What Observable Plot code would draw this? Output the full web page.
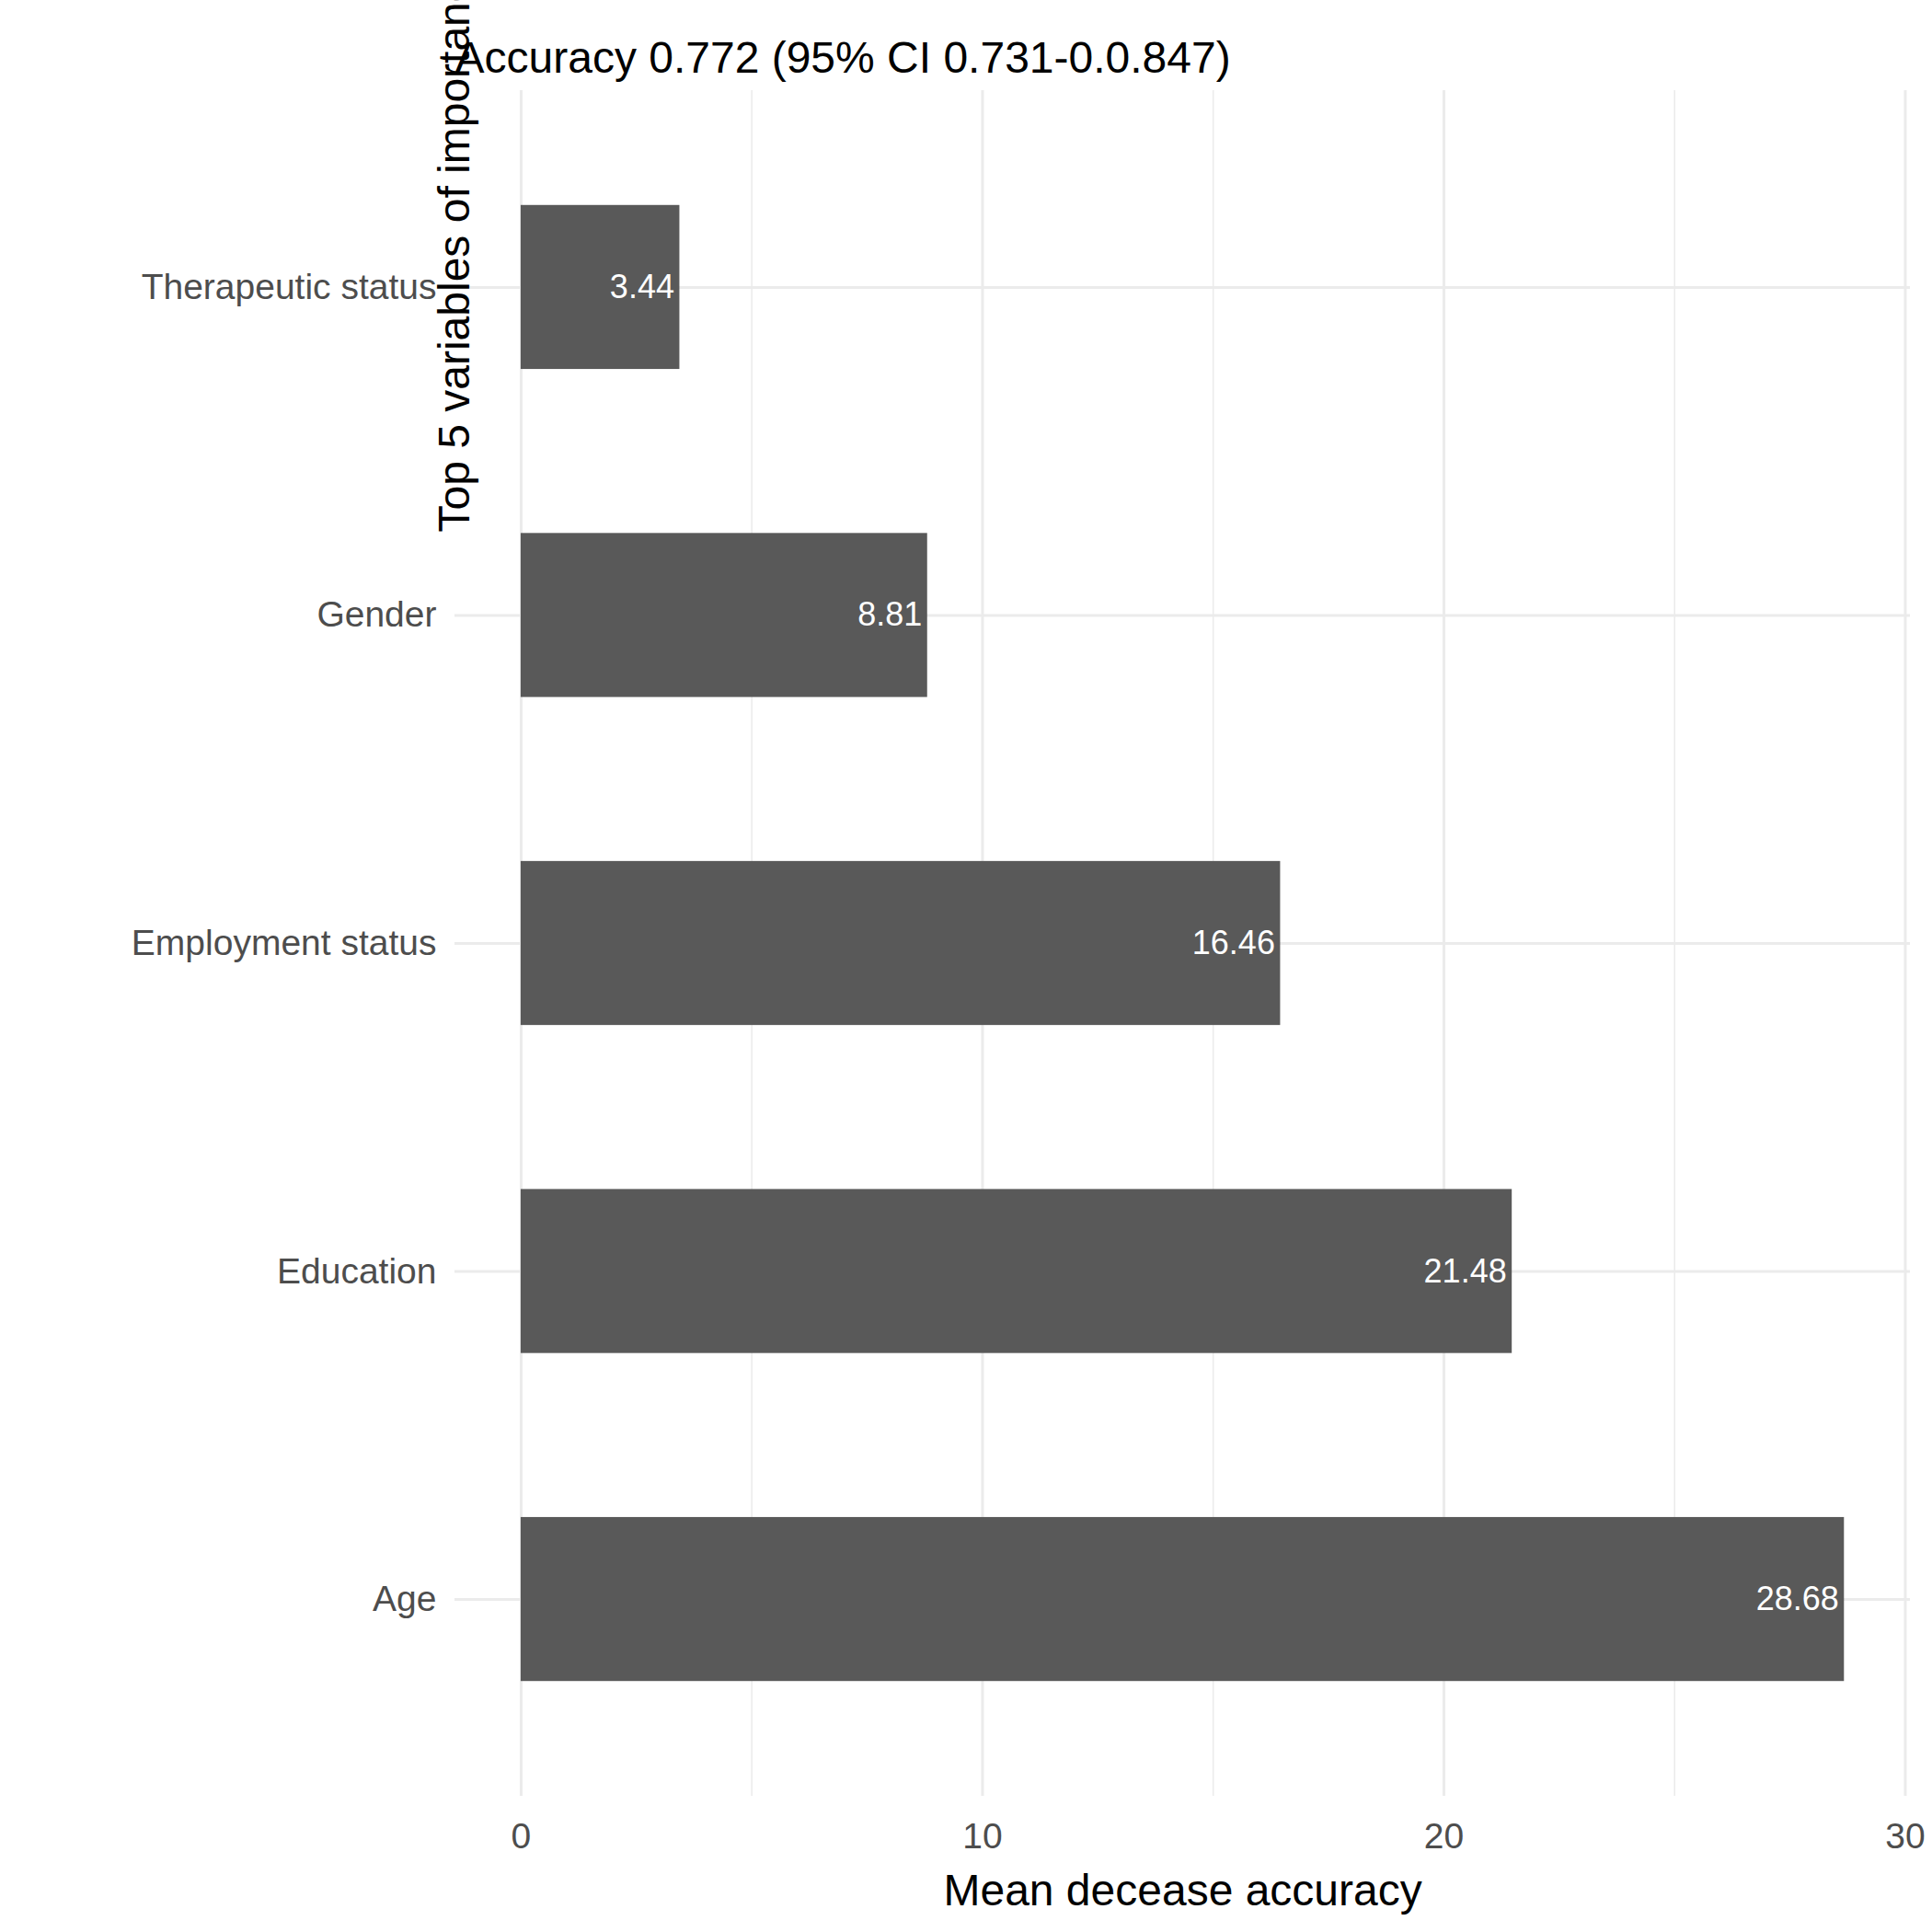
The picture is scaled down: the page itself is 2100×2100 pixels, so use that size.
<!DOCTYPE html>
<html><head>
<script src="https://cdn.jsdelivr.net/npm/d3@7"></script>
<script src="https://cdn.jsdelivr.net/npm/@observablehq/plot@0.6"></script>
<style>body{margin:0;background:#fff;font-family:"Liberation Sans",Arial,sans-serif}</style>
</head><body><div id="c"></div>
<script>
const categories = ["Age","Education","Employment status","Gender","Therapeutic status"];
const values = [28.68, 21.48, 16.46, 8.81, 3.44];
const labels = ["28.68","21.48","16.46","8.81","3.44"];
const xMajor = [0,10,20,30];
const xMinor = [5,15,25];
const title = "Accuracy 0.772 (95% CI 0.731-0.0.847)";
const xTitle = "Mean decease accuracy";
const yTitle = "Top 5 variables of importance as measured by Random Forest";

const data = categories.map((c,i)=>({c, i, v: values[i], l: labels[i]}));
const idx = categories.map((_,i)=>i);

const chart = Plot.plot({
  width: 2100, height: 2100,
  marginLeft: 494, marginRight: 24, marginTop: 98, marginBottom: 148,
  style: {fontFamily: '"Liberation Sans",Arial,sans-serif', background: "#fff"},
  x: {domain: [-1.434, 30.11], axis: null},
  y: {domain: [-0.6, 4.6], axis: null},
  marks: [
    Plot.ruleX(xMinor, {stroke: "#EBEBEB", strokeWidth: 1.5}),
    Plot.ruleX(xMajor, {stroke: "#EBEBEB", strokeWidth: 3}),
    Plot.ruleY(idx, {stroke: "#EBEBEB", strokeWidth: 3}),
    Plot.rectX(data, {x1: 0, x2: "v", y1: d => d.i - 0.25, y2: d => d.i + 0.25, fill: "#595959"}),
    Plot.text(data, {x: "v", y: "i", text: "l", textAnchor: "end", dx: -6, fill: "white", fontSize: 36}),
    Plot.text(idx, {x: -1.434, y: d => d, text: d => categories[d], textAnchor: "end", dx: -20, fill: "#4D4D4D", fontSize: 39}),
    Plot.text(xMajor, {x: d => d, frameAnchor: "bottom", dy: 56, text: d => String(d), fill: "#4D4D4D", fontSize: 39}),
    Plot.text([xTitle], {x: 14.34, frameAnchor: "bottom", dy: 118, text: d => d, fill: "black", fontSize: 48}),
    Plot.text([yTitle], {frameAnchor: "left", dy: -447, rotate: -90, text: d => d, fill: "black", fontSize: 48}),
    Plot.text([title], {frameAnchor: "top-left", dy: -54, dx: 0, textAnchor: "start", text: d => d, fill: "black", fontSize: 48})
  ]
});
document.getElementById("c").appendChild(chart);
</script></body></html>
